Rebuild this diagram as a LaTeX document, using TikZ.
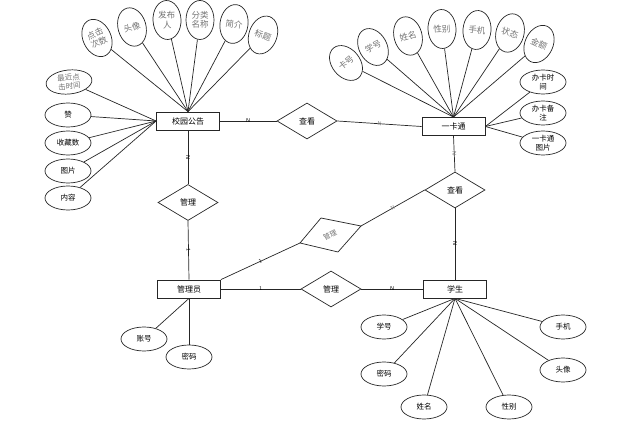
\documentclass[tikz,border=0pt]{standalone}
\usepackage{fontspec}
\newfontfamily\cjk{Noto Sans CJK SC}
\usetikzlibrary{shapes.geometric}
\begin{document}
\begin{tikzpicture}[x=1pt,y=-1pt,
  every node/.style={font=\cjk\fontsize{8}{9}\selectfont},
  ln/.style={draw=black!85,line width=0.7pt},
  ent/.style={rectangle,draw=black!85,line width=0.8pt,minimum width=63pt,minimum height=18pt,inner sep=0pt},
  rel/.style={diamond,draw=black!85,line width=0.7pt,minimum width=60pt,minimum height=36pt,inner sep=0pt},
  attr/.style={ellipse,draw=black!85,line width=0.7pt,minimum width=46pt,minimum height=24pt,inner sep=0pt,align=center,font=\cjk\fontsize{7.5}{8.5}\selectfont},
  tell/.style={ellipse,draw=black!85,line width=0.7pt,minimum width=28pt,minimum height=39pt,inner sep=0pt},
  ttext/.style={align=center,inner sep=0pt,text=black!55,font=\cjk\fontsize{8.5}{9.5}\selectfont},
  gattr/.style={attr,text=black!55},
  lab/.style={font=\sffamily\fontsize{5.5}{6}\selectfont,inner sep=0.5pt,sloped},
  glab/.style={lab,text=black!50}
]
\useasboundingbox (0,0) rectangle (633,438);

% entities
\node[ent] (gg) at (188,121) {校园公告};
\node[ent] (ykt) at (453.5,126.5) {一卡通};
\node[ent] (gly) at (189,289) {管理员};
\node[ent] (xs) at (455,289) {学生};

% relations
\node[rel] (ck1) at (307,121) {查看};
\node[rel] (gl1) at (188,202.5) {管理};
\node[rel] (ck2) at (455,190) {查看};
\node[rel] (gl2) at (331,289) {管理};

% tilted relation
\coordinate (t1) at (300,243);
\coordinate (t2) at (321,218);
\coordinate (t3) at (361,226);
\coordinate (t4) at (338,252);
\draw[ln] (t1) -- (t2) -- (t3) -- (t4) -- cycle;
\node[text=black!55,rotate=25,inner sep=0pt,font=\cjk\fontsize{7}{8}\selectfont] (gl3) at (330,235) {管理};

% relation connectors
\draw[ln] (gg.east) -- node[lab]{N} (ck1.west);
\draw[ln] (ck1.east) -- node[glab]{N} (ykt.west);
\draw[ln] (gg.south) -- node[lab]{N} (gl1.north);
\draw[ln] (gl1.south) -- node[lab]{1} (gly.north);
\draw[ln] (gly.north east) -- node[lab]{1} (t1);
\draw[ln] (t3) -- node[glab]{N} (ck2.west);
\draw[ln] (ykt.south) -- node[glab]{N} (ck2.north);
\draw[ln] (ck2.south) -- node[lab]{N} (xs.north);
\draw[ln] (gly.east) -- node[lab]{1} (gl2.west);
\draw[ln] (gl2.east) -- node[lab]{N} (xs.west);

% 校园公告 attributes (top)
\foreach \n/\x/\y/\r/\t in {a1/97/38/25/{点击\\次数}, a2/132/27/15/头像, a3/167/20/3/{发布\\人},
    a4/200/20/0/{分类\\名称}, a5/234/24/-8/简介, a6/263/35/-20/标题}{
  \node[tell,rotate=\r] (\n) at (\x,\y) {};
  \node[ttext,rotate=\r] at (\n) {\t};
  \draw[ln] (\n) -- (gg.north);
}
% 校园公告 attributes (left)
\node[gattr,rotate=6] (b1) at (69,82) {最近点\\击时间};
\node[attr] (b2) at (68,115) {赞};
\node[attr] (b3) at (68,143) {收藏数};
\node[attr] (b4) at (68,171) {图片};
\node[attr] (b5) at (68,198) {内容};
\foreach \a in {b1,b2,b3,b4,b5} \draw[ln] (\a) -- (gg.west);

% 一卡通 attributes (top)
\foreach \n/\x/\y/\r/\t in {c1/346/63/40/卡号, c2/373/47/28/学号, c3/408/36/15/姓名,
    c4/442/29/3/性别, c5/477/30/-5/手机, c6/510/33/-15/状态, c7/539/44/-25/金额}{
  \node[tell,rotate=\r] (\n) at (\x,\y) {};
  \node[ttext,rotate=\r] at (\n) {\t};
  \draw[ln] (\n) -- (ykt.north);
}
% 一卡通 attributes (right)
\node[attr] (d1) at (543,82) {办卡时\\间};
\node[attr] (d2) at (543,113) {办卡备\\注};
\node[attr] (d3) at (543,143) {一卡通\\图片};
\foreach \a in {d1,d2,d3} \draw[ln] (\a) -- (ykt.east);

% 管理员 attributes
\node[attr] (e1) at (144,339) {账号};
\node[attr] (e2) at (189,357) {密码};
\foreach \a in {e1,e2} \draw[ln] (\a) -- (gly.south);

% 学生 attributes
\node[attr] (f1) at (384,327) {学号};
\node[attr] (f2) at (384,374) {密码};
\node[attr] (f3) at (424,407) {姓名};
\node[attr] (f4) at (509,407) {性别};
\node[attr] (f5) at (563,327) {手机};
\node[attr] (f6) at (563,370) {头像};
\foreach \a in {f1,f2,f3,f4,f5,f6} \draw[ln] (\a) -- (xs.south);
\end{tikzpicture}
\end{document}
